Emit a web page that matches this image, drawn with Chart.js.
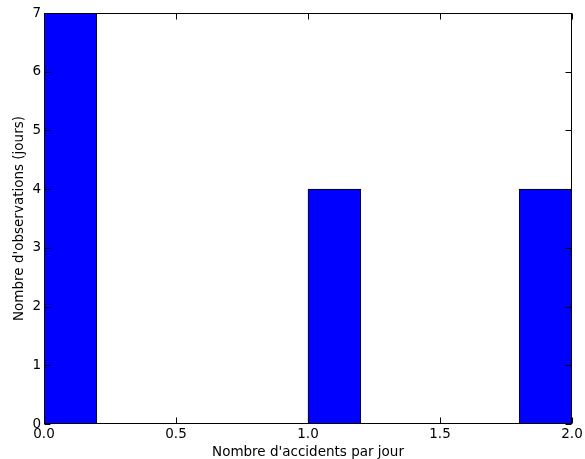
<!DOCTYPE html>
<html><head><meta charset="utf-8">
<script src="https://cdn.jsdelivr.net/npm/chart.js@4"></script>
<style>html,body{margin:0;padding:0;background:#fff}#w{width:585px;height:459px}</style>
</head><body><div id="w"><canvas id="c"></canvas></div>
<script>
const binLabels = ["0.0-0.2","0.2-0.4","0.4-0.6","0.6-0.8","0.8-1.0","1.0-1.2","1.2-1.4","1.4-1.6","1.6-1.8","1.8-2.0"];
const counts = [7,0,0,0,0,4,0,0,0,4];
const xTicks = [0.0,0.5,1.0,1.5,2.0];
const yTicks = [0,1,2,3,4,5,6,7];

const font = {family:"'DejaVu Sans', sans-serif", size:13.5};

const frameTicks = {
  id:'frameTicks',
  afterDatasetsDraw(chart){
    const {ctx, chartArea:a, scales} = chart;
    ctx.save();
    ctx.strokeStyle='#000'; ctx.lineWidth=1;
    const L=Math.round(a.left)+0.5, R=Math.round(a.right)-0.5, T=Math.round(a.top)+0.5, B=Math.round(a.bottom)-0.5;
    ctx.beginPath();
    xTicks.forEach(v=>{const p=Math.round(scales.xl.getPixelForValue(v))+0.5;ctx.moveTo(p,B);ctx.lineTo(p,B-6);ctx.moveTo(p,T);ctx.lineTo(p,T+6);});
    yTicks.forEach(v=>{const p=Math.round(scales.y.getPixelForValue(v))+0.5;ctx.moveTo(L,p);ctx.lineTo(L+6,p);ctx.moveTo(R,p);ctx.lineTo(R-6,p);});
    ctx.stroke();
    ctx.strokeRect(L,T,R-L,B-T);
    ctx.restore();
  }
};

new Chart(document.getElementById('c'),{
  type:'bar',
  data:{labels:binLabels,datasets:[{data:counts,backgroundColor:'#0000ff',borderColor:'#000',borderWidth:1,categoryPercentage:1,barPercentage:1}]},
  options:{
    responsive:true,maintainAspectRatio:false,animation:false,
    layout:{padding:{top:13,right:13,left:0,bottom:0}},
    plugins:{legend:{display:false},tooltip:{enabled:false}},
    scales:{
      x:{type:'category',display:false,offset:true,grid:{display:false}},
      xl:{type:'linear',position:'bottom',min:0,max:2,offset:false,
        afterBuildTicks(s){s.ticks=xTicks.map(v=>({value:v}));},
        afterFit(s){s.height=35;},
        grid:{display:false,drawTicks:false,offset:false},border:{display:false},
        ticks:{color:'#000',font,padding:2,maxRotation:0,callback:v=>v.toFixed(1)},
        title:{display:true,text:"Nombre d'accidents par jour",color:'#000',font,padding:{top:0,bottom:-2}}},
      y:{min:0,max:7,
        afterBuildTicks(s){s.ticks=yTicks.map(v=>({value:v}));},
        afterFit(s){s.width=44;},
        grid:{display:false,drawTicks:false},border:{display:false},
        ticks:{color:'#000',font,padding:3,callback:v=>String(v)},
        title:{display:true,text:"Nombre d'observations (jours)",color:'#000',font,padding:{top:11,bottom:0}}}
    }
  },
  plugins:[frameTicks]
});
</script></body></html>
